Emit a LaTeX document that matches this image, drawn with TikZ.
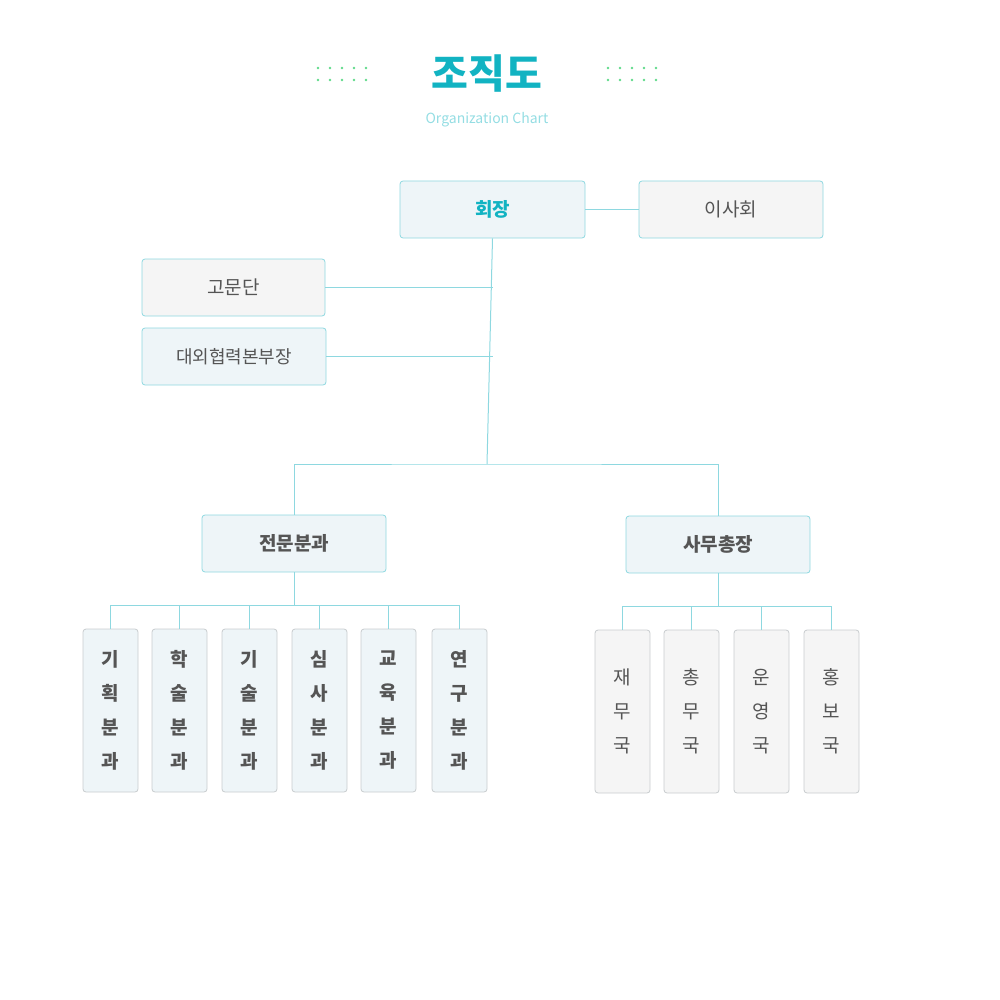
\documentclass[tikz,border=0pt]{standalone}
\usepackage{fontspec}
\setmainfont{Noto Sans CJK KR}
\newfontfamily\kbold{Noto Sans CJK KR Bold}
\definecolor{cy}{HTML}{12B3C2}
\definecolor{ln}{HTML}{8ED8E0}
\definecolor{bl}{HTML}{EEF5F8}
\definecolor{gf}{HTML}{F5F5F5}
\definecolor{tx}{HTML}{555555}
\definecolor{gb}{HTML}{C8CCCE}
\definecolor{dt}{HTML}{5FD98A}
\tikzset{
 bx/.style={draw=ln,rounded corners=3pt,line width=0.8pt,text=tx,font=\fontsize{17}{17}\selectfont},
 sm/.style={draw=gb,rounded corners=3pt,line width=0.8pt,text=tx,align=center,font=\fontsize{17}{34}\selectfont},
 con/.style={draw=ln,line width=1pt}
}
\begin{document}
\begin{tikzpicture}[x=1pt,y=-1pt]
\useasboundingbox (0,0) rectangle (1000,1000);
\foreach \x in {318,330,342,354,366,608,620,632,644,656}
 \foreach \y in {68,80} \fill[dt] (\x,\y) circle (1.4);
\node[text=cy,font=\fontsize{40}{40}\selectfont\bfseries] (title) at (487,74) {조직도};
\node[text=cy!45,font=\fontsize{14}{14}\selectfont] (sub) at (487,120) {Organization Chart};
\def\B#1#2#3#4#5#6#7{\node[bx,fill=#6,minimum width=#3-#2,minimum height=#5-#4,#7] (#1) at ({(#2+#3)/2},{(#4+#5)/2}) {};}
\node[bx,fill=bl,minimum width=185,minimum height=57,text=cy,font=\fontsize{19}{19}\selectfont\bfseries] (pres) at (492.5,209.5) {회장};
\node[bx,fill=gf,minimum width=184,minimum height=57,font=\fontsize{19}{19}\selectfont] (board) at (731,209.5) {이사회};
\node[bx,fill=gf,minimum width=183,minimum height=57,font=\fontsize{19}{19}\selectfont] (adv) at (233.5,287.5) {고문단};
\node[bx,fill=bl,minimum width=184,minimum height=57,font=\fontsize{18}{18}\selectfont] (ext) at (234,356.5) {대외협력본부장};
\node[bx,fill=bl,minimum width=184,minimum height=57,font=\fontsize{19}{19}\selectfont\bfseries] (div) at (294,543.5) {전문분과};
\node[bx,fill=bl,minimum width=184,minimum height=57,font=\fontsize{19}{19}\selectfont\bfseries] (sec) at (718,544.5) {사무총장};
\foreach \n/\x/\t in {a1/110.5/기\\획\\분\\과,a2/179.5/학\\술\\분\\과,a3/249.5/기\\술\\분\\과,a4/319.5/심\\사\\분\\과,a5/388.5/교\\육\\분\\과,a6/459.5/연\\구\\분\\과}
 \node[sm,fill=bl,minimum width=55,minimum height=163,font=\fontsize{19}{34}\selectfont\bfseries] (\n) at (\x,710.5) {\t};
\foreach \n/\x/\t in {b1/622.5/재\\무\\국,b2/691.5/총\\무\\국,b3/761.5/운\\영\\국,b4/831.5/홍\\보\\국}
 \node[sm,fill=gf,minimum width=55,minimum height=163,font=\fontsize{19}{34}\selectfont] (\n) at (\x,711.5) {\t};
\coordinate (j) at (487,464);
\draw[con] (pres) -- (board);
\draw[con] (pres.south) -- (j);
\draw[con] (adv.east) -- (adv.east -| pres.south);
\draw[con] (ext.east) -- (ext.east -| pres.south);
\draw[con] (div.north) |- (j) -| (sec.north);
\draw[con] (div.south) -- ++(0,33) coordinate (d);
\draw[con] (a1.north) |- (d) -| (a6.north);
\foreach \n in {a2,a3,a4,a5} \draw[con] (\n.north) -- (\n.north |- d);
\draw[con] (sec.south) -- ++(0,33) coordinate (s);
\draw[con] (b1.north) |- (s) -| (b4.north);
\foreach \n in {b2,b3} \draw[con] (\n.north) -- (\n.north |- s);
\end{tikzpicture}
\end{document}
